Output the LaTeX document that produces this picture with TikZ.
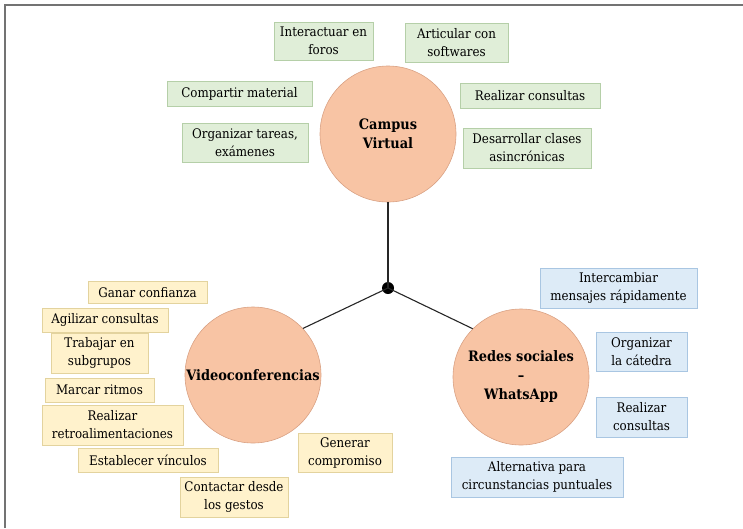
\documentclass[tikz,border=0pt]{standalone}
\usepackage{fontspec}
\setmainfont{DejaVu Serif Condensed}
\begin{document}
\begin{tikzpicture}[x=1pt,y=-1pt,
  every node/.style={font=\fontsize{13.2}{18}\selectfont, align=center, inner sep=1pt},
  hub/.style={circle, minimum size=136pt, inner sep=0pt, fill=hubfill, draw=hubdraw, line width=0.6pt, font=\fontsize{14.4}{19}\selectfont\bfseries},
  greenbox/.style={rectangle, fill=gfill, draw=gdraw, line width=0.8pt},
  yellowbox/.style={rectangle, fill=yfill, draw=ydraw, line width=0.8pt},
  bluebox/.style={rectangle, fill=bfill, draw=bdraw, line width=0.8pt},
  link/.style={draw=black!85, line width=1.1pt},
  frameline/.style={draw=black!55, line width=1.6pt}]
\definecolor{hubfill}{HTML}{F8C4A4}
\definecolor{hubdraw}{HTML}{D9A183}
\definecolor{gfill}{HTML}{E0EED8}
\definecolor{gdraw}{HTML}{B5CFA8}
\definecolor{yfill}{HTML}{FFF2CC}
\definecolor{ydraw}{HTML}{E3D39E}
\definecolor{bfill}{HTML}{DDEBF7}
\definecolor{bdraw}{HTML}{A9C6E2}

\useasboundingbox (0,0) rectangle (743,528);
\coordinate (fb) at (5,528);
\coordinate (fc) at (5,5);
\coordinate (fr) at (743,5);
\draw[frameline] (fb) -- (fc) -- (fr);

% three hubs and the joining dot
\node[hub] (campus) at (388,134) {Campus\\Virtual};
\node[hub] (video) at (253,375) {Videoconferencias};
\node[hub] (redes) at (521,377) {Redes sociales\\--\\WhatsApp};
\node[circle, fill=black, inner sep=0pt, minimum size=12pt] (dot) at (388,288) {};

\draw[link] (campus.south) -- (dot.center);
\draw[link] (dot.center) -- (video.43);
\draw[link] (dot.center) -- (redes.135);

% Campus Virtual
\node[greenbox, minimum width=99pt, minimum height=38pt] (g1) at (323.5,41) {Interactuar en\\foros};
\node[greenbox, minimum width=103pt, minimum height=39pt] (g2) at (456.5,42.5) {Articular con\\softwares};
\node[greenbox, minimum width=145pt, minimum height=25pt] (g3) at (239.5,94) {Compartir material};
\node[greenbox, minimum width=140pt, minimum height=25pt] (g4) at (530,96) {Realizar consultas};
\node[greenbox, minimum width=126pt, minimum height=39pt] (g5) at (245,143) {Organizar tareas,\\exámenes};
\node[greenbox, minimum width=128pt, minimum height=40pt] (g6) at (527,148) {Desarrollar clases\\asincrónicas};

% Videoconferencias
\node[yellowbox, minimum width=119pt, minimum height=22pt] (y1) at (147.5,292.5) {Ganar confianza};
\node[yellowbox, minimum width=126pt, minimum height=24pt] (y2) at (105,320) {Agilizar consultas};
\node[yellowbox, minimum width=97pt, minimum height=40pt] (y3) at (99.5,353) {Trabajar en\\subgrupos};
\node[yellowbox, minimum width=109pt, minimum height=24pt] (y4) at (99.5,390) {Marcar ritmos};
\node[yellowbox, minimum width=141pt, minimum height=40pt] (y5) at (112.5,425) {Realizar\\retroalimentaciones};
\node[yellowbox, minimum width=140pt, minimum height=24pt] (y6) at (148,460) {Establecer vínculos};
\node[yellowbox, minimum width=108pt, minimum height=40pt] (y7) at (234,497) {Contactar desde\\los gestos};
\node[yellowbox, minimum width=94pt, minimum height=39pt] (y8) at (345,452.5) {Generar\\compromiso};

% Redes sociales - WhatsApp
\node[bluebox, minimum width=157pt, minimum height=40pt] (b1) at (618.5,288) {Intercambiar\\mensajes rápidamente};
\node[bluebox, minimum width=91pt, minimum height=39pt] (b2) at (641.5,351.5) {Organizar\\la cátedra};
\node[bluebox, minimum width=91pt, minimum height=40pt] (b3) at (641.5,417) {Realizar\\consultas};
\node[bluebox, minimum width=172pt, minimum height=40pt] (b4) at (537,477) {Alternativa para\\circunstancias puntuales};
\end{tikzpicture}
\end{document}
